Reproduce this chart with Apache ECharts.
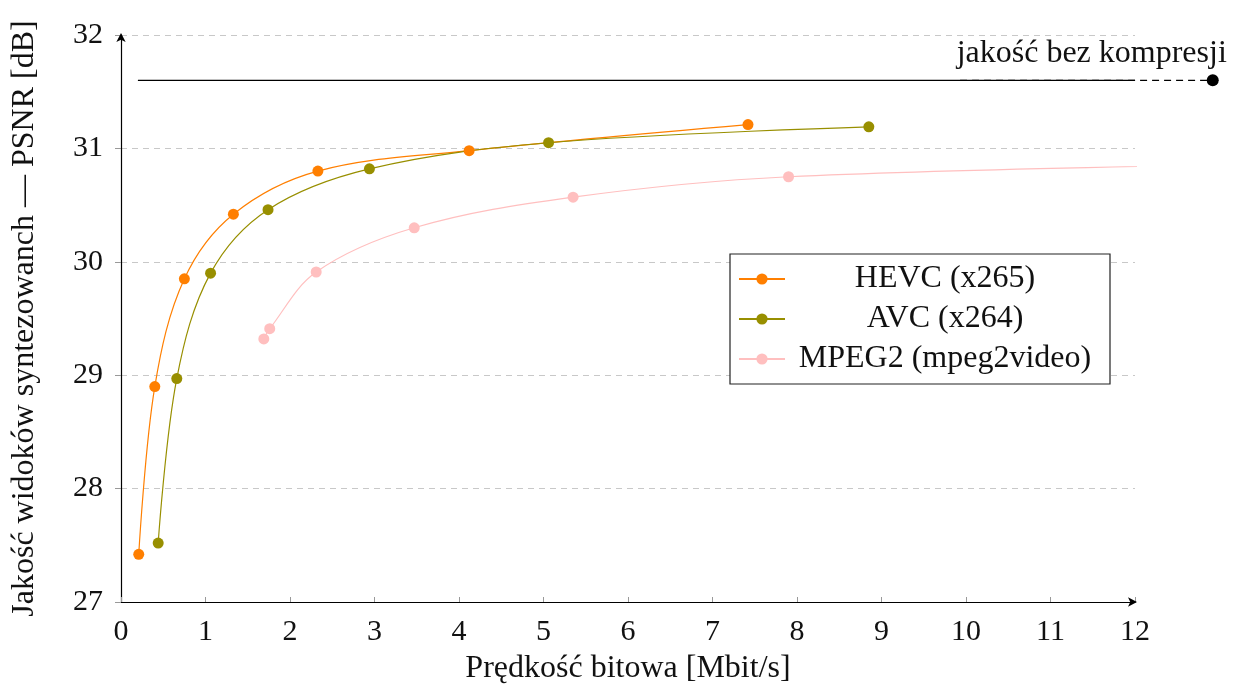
<!DOCTYPE html>
<html>
<head>
<meta charset="utf-8">
<script src="https://cdn.jsdelivr.net/npm/echarts@6/dist/echarts.min.js"></script>
<style>
html,body{margin:0;padding:0;background:#fff;}
#chart{width:1235px;height:684px;}
</style>
</head>
<body>
<div id="chart"></div>
<script>
// ---- data ----
const seriesNames = ['HEVC (x265)', 'AVC (x264)', 'MPEG2 (mpeg2video)'];
const hevcX = [0.21, 0.40, 0.75, 1.33, 2.33, 4.12, 7.42];
const hevcY = [27.42, 28.90, 29.85, 30.42, 30.80, 30.98, 31.21];
const avcX = [0.44, 0.66, 1.06, 1.74, 2.94, 5.06, 8.85];
const avcY = [27.52, 28.97, 29.90, 30.46, 30.82, 31.05, 31.19];
const mpegX = [1.69, 1.76, 2.31, 3.47, 5.35, 7.90, 13.5];
const mpegY = [29.32, 29.41, 29.91, 30.30, 30.57, 30.75, 30.86];
const refValue = 31.6;
const refSolidX = [0.2, 12];
const refDashedX = [9.93, 12.92];
const refLabel = 'jakość bez kompresji';
const xTicks = [0, 1, 2, 3, 4, 5, 6, 7, 8, 9, 10, 11, 12];
const yTicks = [27, 28, 29, 30, 31, 32];
const xTitle = 'Prędkość bitowa [Mbit/s]';
const yTitle = 'Jakość widoków syntezowanch — PSNR [dB]';
const colors = ['#ff7f00', '#988f00', '#ffbfbf'];

const zip = (xs, ys) => xs.map((x, i) => [x, ys[i]]);
const FONT = 'Liberation Serif';

const chart = echarts.init(document.getElementById('chart'), null, {renderer: 'canvas'});

function mkSeries(name, xs, ys, color) {
  return {
    name: name, type: 'line', data: zip(xs, ys),
    smooth: 0.35, symbol: 'circle', symbolSize: 11,
    lineStyle: {color: color, width: 1.2},
    itemStyle: {color: color},
    emphasis: {disabled: true},
    z: 3
  };
}

const option = {
  animation: false,
  backgroundColor: '#fff',
  grid: {left: 121, right: 100, top: 35, bottom: 82, containLabel: false, outerBoundsMode: 'none'},
  textStyle: {fontFamily: FONT},
  xAxis: {
    type: 'value', min: xTicks[0], max: xTicks[xTicks.length - 1], interval: 1,
    name: xTitle, nameLocation: 'middle', nameGap: 51,
    nameTextStyle: {fontFamily: FONT, fontSize: 32, color: '#111'},
    axisLine: {show: true, lineStyle: {color: '#000', width: 1.2}, symbol: ['none', 'arrow'], symbolSize: [7, 9], symbolOffset: [0, 2]},
    axisTick: {show: true, inside: true, length: 5, lineStyle: {color: '#999'}},
    axisLabel: {fontFamily: FONT, fontSize: 30, color: '#111', margin: 15},
    splitLine: {show: false}
  },
  yAxis: {
    type: 'value', min: yTicks[0], max: yTicks[yTicks.length - 1], interval: 1,
    name: yTitle, nameLocation: 'middle', nameGap: 80, nameRotate: 90,
    nameTextStyle: {fontFamily: FONT, fontSize: 32, color: '#111'},
    axisLine: {show: true, lineStyle: {color: '#000', width: 1.2}, symbol: ['none', 'arrow'], symbolSize: [7, 9], symbolOffset: [0, 2]},
    axisTick: {show: true, inside: false, length: 6, lineStyle: {color: '#999'}},
    axisLabel: {fontFamily: FONT, fontSize: 30, color: '#111', margin: 18},
    splitLine: {show: true, lineStyle: {color: '#c8c8c8', type: [6, 5], width: 1.2}}
  },
  legend: {
    show: true, orient: 'vertical', left: 730, top: 254,
    data: seriesNames,
    backgroundColor: '#fff', borderColor: '#222', borderWidth: 1.2,
    padding: [5, 10, 5, 8], itemGap: 0, itemWidth: 46, itemHeight: 14,
    formatter: n => '{t|' + n + '}',
    textStyle: {fontFamily: FONT, fontSize: 32, color: '#111', lineHeight: 40,
      rich: {t: {fontFamily: FONT, fontSize: 32, color: '#111', lineHeight: 40, width: 310, align: 'center'}}},
    selectedMode: false
  },
  series: [
    mkSeries(seriesNames[0], hevcX, hevcY, colors[0]),
    mkSeries(seriesNames[1], avcX, avcY, colors[1]),
    mkSeries(seriesNames[2], mpegX, mpegY, colors[2]),
    {
      name: 'ref', type: 'line', data: refSolidX.map(x => [x, refValue]),
      symbol: 'none', lineStyle: {color: '#000', width: 1.2}, silent: true, z: 2
    },
    {
      name: 'refDashed', type: 'custom', clip: false, silent: true, z: 2,
      data: [[refDashedX[0], refDashedX[1], refValue]],
      renderItem: function (params, api) {
        const p1 = api.coord([api.value(0), api.value(2)]);
        const p2 = api.coord([api.value(1), api.value(2)]);
        return {
          type: 'group',
          children: [
            {type: 'line', shape: {x1: p1[0], y1: p1[1], x2: p2[0], y2: p2[1]},
             style: {stroke: '#000', lineWidth: 1.2, lineDash: [7, 5]}},
            {type: 'circle', shape: {cx: p2[0], cy: p2[1], r: 6}, style: {fill: '#000'}},
            {type: 'text', x: p2[0] - 121, y: p2[1] - 27,
             style: {text: refLabel, fontFamily: FONT, fontSize: 32, fill: '#111',
                     align: 'center', verticalAlign: 'middle'}}
          ]
        };
      }
    }
  ]
};
chart.setOption(option);
</script>
</body>
</html>
